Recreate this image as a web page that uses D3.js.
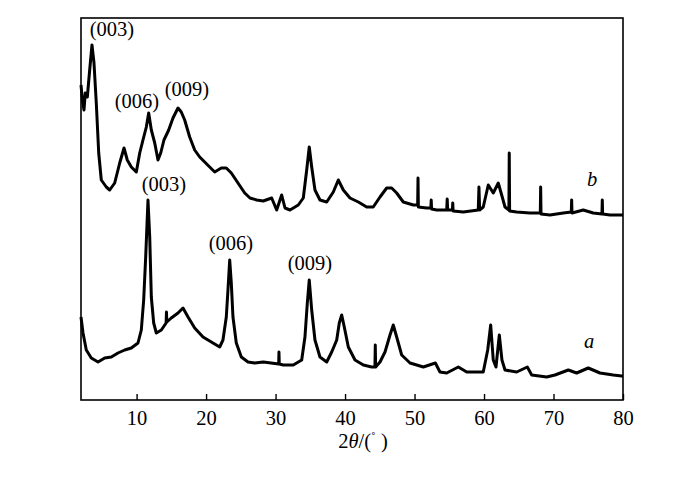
<!DOCTYPE html>
<html>
<head>
<meta charset="utf-8">
<script src="https://cdn.jsdelivr.net/npm/d3@7"></script>
<style>
  body { margin: 0; background: #fff; }
  text { font-family: "Liberation Serif", "Times New Roman", serif; fill: #000; }
</style>
</head>
<body>
<svg id="chart" width="700" height="481"></svg>
<script>
// 2theta (deg) / intensity (a.u.)
const twoThetaA = [2.0, 2.29, 2.76, 3.48, 4.45, 5.41, 6.36, 7.32, 8.29, 9.24, 10.2, 10.68, 11.02, 11.31, 11.64, 11.89, 12.12, 12.46, 12.84, 13.56,
  14.25, 14.3, 14.35, 14.99, 15.96, 16.68, 17.4, 18.36, 19.56, 20.75, 21.96, 22.43, 22.91, 23.15, 23.4, 23.63, 23.87, 24.35, 25.07, 26.03,
  27.0, 28.23, 30.45, 30.49, 30.53, 31.11, 32.55, 33.76, 34.23, 34.57, 34.85, 35.2, 35.67, 36.39, 37.36, 38.08, 38.8, 39.17, 39.52, 39.89,
  40.47, 41.43, 42.63, 43.83, 44.3, 44.35, 44.4, 45.03, 45.75, 46.47, 46.94, 47.43, 48.15, 49.35, 51.26, 53.0, 53.66, 54.63, 56.3, 57.51,
  59.89, 60.53, 60.96, 61.33, 61.72, 62.2, 62.58, 63.02, 64.7, 66.23, 66.86, 69.02, 70.21, 72.13, 73.33, 75.0, 76.69, 78.6, 79.81, 80.0];
const intensityA = [83, 67, 50, 42, 38, 42, 43, 47, 50, 52, 57, 70, 100, 143, 200, 163, 103, 77, 67, 70,
  77, 88, 78, 82, 87, 92, 83, 72, 63, 58, 53, 60, 83, 110, 140, 117, 83, 57, 43, 38,
  37, 38, 36, 48, 36, 35, 35, 40, 63, 97, 120, 90, 60, 43, 38, 48, 60, 77, 85, 73,
  53, 40, 35, 33, 33, 55, 33, 38, 48, 65, 75, 63, 45, 37, 33, 37, 28, 27, 33, 28,
  28, 50, 75, 40, 33, 65, 40, 30, 28, 33, 25, 23, 25, 30, 27, 32, 27, 25, 24, 24];

const twoThetaB = [2.0, 2.2, 2.43, 2.62, 2.91, 3.25, 3.58, 3.87, 4.2, 4.55, 4.92, 5.64, 6.13, 6.85, 7.57, 8.19, 8.66, 9.24, 9.96, 10.45,
  10.92, 11.4, 11.74, 12.12, 12.61, 13.08, 13.47, 13.94, 14.62, 15.24, 15.96, 16.43, 16.92, 17.64, 18.36, 19.08, 19.8, 20.52, 21.24, 22.19,
  22.91, 23.63, 24.59, 25.56, 26.32, 27.28, 28.23, 29.44, 30.16, 30.88, 31.36, 32.08, 33.27, 33.99, 34.48, 34.85, 35.2, 35.67, 36.39, 37.36,
  38.31, 39.03, 39.75, 40.71, 41.91, 43.11, 44.06, 45.03, 45.99, 46.71, 47.43, 48.38, 49.82, 50.45, 50.5, 50.55, 51.75, 52.35, 52.4, 52.45,
  53.19, 54.63, 54.7, 54.77, 55.45, 55.5, 55.55, 57.02, 59.17, 59.27, 59.37, 59.89, 60.61, 61.33, 62.05, 62.54, 63.02, 63.58, 63.63, 63.68,
  64.7, 66.61, 68.1, 68.15, 68.2, 69.49, 71.41, 72.56, 72.61, 72.66, 74.28, 75.72, 76.97, 77.02, 77.07, 78.13, 79.81, 80.0];
const intensityB = [315, 300, 290, 307, 303, 330, 355, 337, 297, 247, 220, 213, 210, 217, 237, 252, 240, 233, 228, 247,
  260, 273, 287, 270, 257, 240, 247, 260, 270, 282, 292, 288, 280, 263, 250, 243, 238, 233, 228, 232,
  232, 227, 217, 207, 202, 200, 199, 202, 190, 205, 192, 190, 195, 202, 230, 253, 233, 210, 200, 198,
  208, 220, 210, 202, 198, 193, 193, 203, 212, 212, 207, 198, 195, 195, 222, 193, 192, 192, 200, 191,
  190, 190, 201, 190, 190, 197, 189, 188, 190, 213, 190, 193, 215, 207, 217, 205, 193, 190, 247, 189,
  188, 187, 187, 213, 186, 185, 187, 188, 200, 187, 190, 187, 186, 200, 186, 185, 185, 185];

const xTicks = [10, 20, 30, 40, 50, 60, 70, 80];

const peaks = [
  { label: "(003)", x: 112, y: 36 },
  { label: "(006)", x: 137, y: 108 },
  { label: "(009)", x: 187, y: 96 },
  { label: "(003)", x: 164, y: 191 },
  { label: "(006)", x: 231, y: 250 },
  { label: "(009)", x: 310, y: 270 }
];

const margin = { top: 18, right: 77, bottom: 81, left: 81 };
const width = 700, height = 481;
const innerW = width - margin.left - margin.right;
const innerH = height - margin.top - margin.bottom;

const svg = d3.select("#chart");
const g = svg.append("g").attr("transform", `translate(${margin.left},${margin.top})`);

const x = d3.scaleLinear().domain([2, 80]).range([0, innerW]);
const y = d3.scaleLinear().domain([0, innerH]).range([innerH, 0]);

const line = d3.line().x(d => x(d[0])).y(d => y(d[1]));

const seriesA = d3.zip(twoThetaA, intensityA);
const seriesB = d3.zip(twoThetaB, intensityB);

[seriesA, seriesB].forEach(s => {
  g.append("path")
    .datum(s)
    .attr("fill", "none")
    .attr("stroke", "#000")
    .attr("stroke-width", 3)
    .attr("stroke-linejoin", "round")
    .attr("d", line);
});

// frame
g.append("rect")
  .attr("width", innerW).attr("height", innerH)
  .attr("fill", "none").attr("stroke", "#000").attr("stroke-width", 1.6);

const xAxis = g.append("g")
  .attr("transform", `translate(0,${innerH})`)
  .call(d3.axisBottom(x).tickValues(xTicks).tickSizeInner(-6).tickSizeOuter(0).tickPadding(10));
xAxis.select(".domain").remove();
xAxis.selectAll("line").attr("stroke", "#000").attr("stroke-width", 1.4);
xAxis.selectAll("text").attr("font-size", 20.5);

// axis title 2θ/(°)
const title = svg.append("text")
  .attr("x", 363).attr("y", 448)
  .attr("text-anchor", "middle")
  .attr("font-size", 20.5);
title.append("tspan").text("2");
title.append("tspan").attr("font-style", "italic").text("θ");
title.append("tspan").text("/(");
title.append("tspan").attr("font-size", 14).attr("dy", -5).text("˚");
title.append("tspan").attr("dy", 5).text(" )");

svg.selectAll(".peak")
  .data(peaks)
  .join("text")
  .attr("class", "peak")
  .attr("x", d => d.x).attr("y", d => d.y)
  .attr("text-anchor", "middle")
  .attr("font-size", 20.5)
  .text(d => d.label);

svg.append("text").attr("x", 592).attr("y", 186).attr("text-anchor", "middle")
  .attr("font-size", 20.5).attr("font-style", "italic").text("b");
svg.append("text").attr("x", 589).attr("y", 348).attr("text-anchor", "middle")
  .attr("font-size", 20.5).attr("font-style", "italic").text("a");
</script>
</body>
</html>
